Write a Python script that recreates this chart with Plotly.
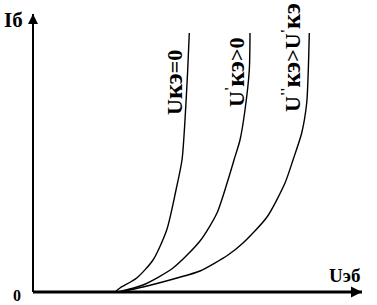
import plotly.graph_objects as go

# Input characteristics Iб(Uэб) for three values of Uкэ (arbitrary units)
u1 = [0.82, 0.87, 1.037, 1.20, 1.337, 1.43, 1.49, 1.52, 1.547, 1.563]
i1 = [0.0, 0.04, 0.14, 0.32, 0.62, 1.02, 1.32, 1.72, 2.22, 2.59]

u2 = [0.85, 1.10, 1.40, 1.67, 1.84, 1.95, 2.01, 2.07, 2.12, 2.163, 2.17]
i2 = [0.0, 0.07, 0.24, 0.51, 0.79, 1.12, 1.32, 1.52, 1.82, 2.22, 2.59]

u3 = [0.87, 1.10, 1.44, 1.67, 1.95, 2.10, 2.34, 2.52, 2.60, 2.687, 2.737, 2.753, 2.763]
i3 = [0.0, 0.05, 0.14, 0.21, 0.37, 0.49, 0.75, 1.09, 1.32, 1.59, 1.89, 2.22, 2.59]

K = "<span style='font-size:26px'>кэ</span>"
curve_labels = ["U" + K + "=0",
                "U<sup>'</sup>" + K + ">0",
                "U<sup>''</sup>" + K + ">U<sup>'</sup>" + K]
label_pos = [(1.405, 2.095), (2.02, 2.20), (2.58, 2.34)]

x_axis_end = 3.29
y_axis_end = 2.78

fig = go.Figure()
for u, i in [(u1, i1), (u2, i2), (u3, i3)]:
    fig.add_trace(go.Scatter(x=u, y=i, mode="lines",
                             line=dict(color="black", width=1.4, shape="spline", smoothing=0.7),
                             hoverinfo="skip", showlegend=False))

# axes drawn as lines with arrow markers at their ends
fig.add_trace(go.Scatter(x=[0, x_axis_end], y=[0, 0], mode="lines",
                         line=dict(color="black", width=3), hoverinfo="skip", showlegend=False))
fig.add_trace(go.Scatter(x=[0, 0], y=[0, y_axis_end], mode="lines",
                         line=dict(color="black", width=2), hoverinfo="skip", showlegend=False))
fig.add_trace(go.Scatter(x=[x_axis_end], y=[0], mode="markers",
                         marker=dict(symbol="arrow-right", size=11, color="black"),
                         hoverinfo="skip", showlegend=False))
fig.add_trace(go.Scatter(x=[0], y=[y_axis_end], mode="markers",
                         marker=dict(symbol="arrow-up", size=10, color="black"),
                         hoverinfo="skip", showlegend=False))

font_b = "Liberation Serif"
ann = []
ann.append(dict(x=-0.20, y=2.72, xref="x", yref="y", text="<b>Iб</b>", showarrow=False,
                font=dict(family=font_b, size=21, color="black")))
ann.append(dict(x=-0.165, y=-0.125, xref="x", yref="y", yanchor="bottom", borderpad=0,
                text="<b>0</b>", showarrow=False,
                font=dict(family=font_b, size=16, color="black")))
ann.append(dict(x=3.11, y=0.17, xref="x", yref="y", text="<b>Uэб</b>", showarrow=False,
                font=dict(family=font_b, size=19, color="black")))
for t, (x, y) in zip(curve_labels, label_pos):
    ann.append(dict(x=x, y=y, xref="x", yref="y", text="<b>" + t + "</b>", showarrow=False,
                    textangle=-90, font=dict(family=font_b, size=22, color="black")))

fig.update_layout(
    width=377, height=305,
    margin=dict(l=0, r=0, t=0, b=0),
    paper_bgcolor="white", plot_bgcolor="white",
    xaxis=dict(range=[-0.33, 3.44], visible=False, fixedrange=True),
    yaxis=dict(range=[-0.13, 2.92], visible=False, fixedrange=True),
    annotations=ann,
)

fig.write_html("out.html")
